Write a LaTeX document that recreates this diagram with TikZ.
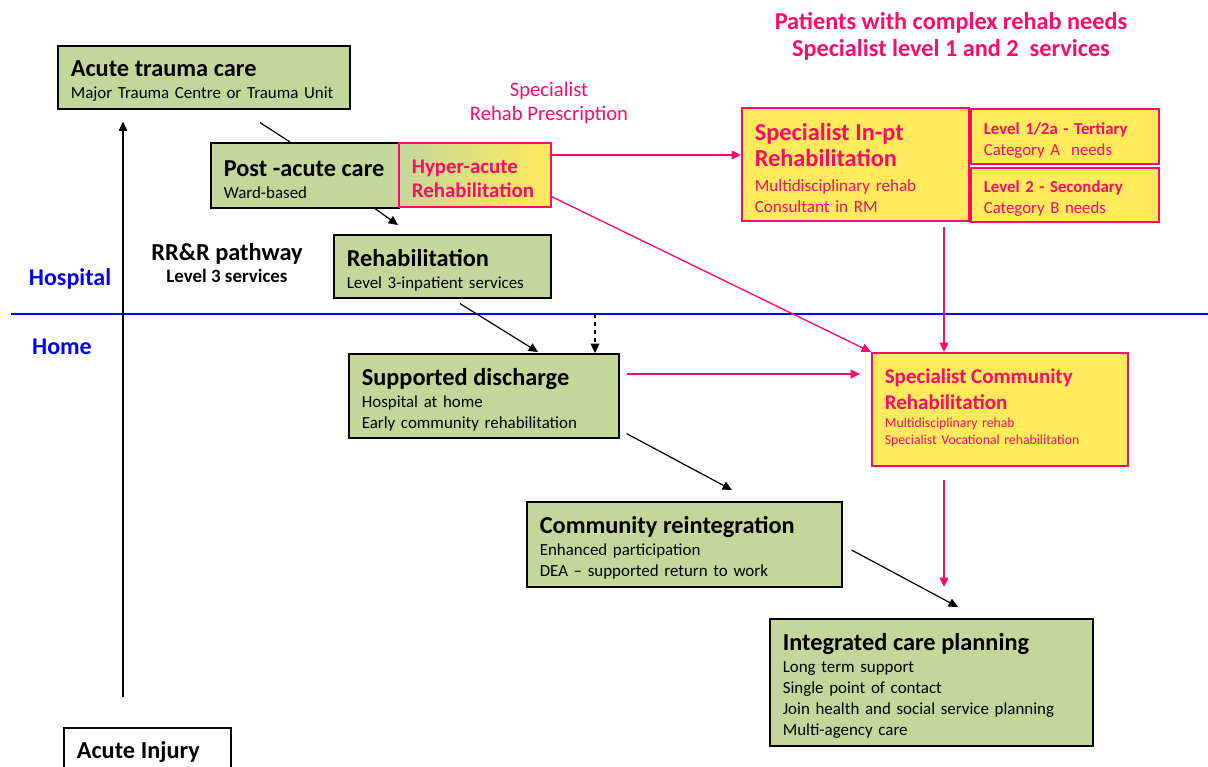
\documentclass[tikz,border=0pt]{standalone}
\usepackage{fontspec}
\setmainfont{Carlito}
\usepackage{tikz}
\usetikzlibrary{arrows.meta,calc,positioning}
\setlength{\parindent}{0pt}
\definecolor{boxgreen}{HTML}{C4D79B}
\definecolor{boxyellow}{HTML}{FFEB5C}
\definecolor{rehabpink}{HTML}{FF0A6A}
\definecolor{homeblue}{HTML}{0000FF}
\newcommand{\boxhead}[2][18.25]{{\fontsize{#1}{19.5}\selectfont\bfseries #2\par}\vspace{0.75pt}}
\tikzset{care box/.style={draw=black, line width=1.2pt, fill=boxgreen, anchor=north west, align=left, inner xsep=9.75pt, inner ysep=2pt, font=\fontsize{12.7}{15.75}\selectfont, execute at end node={\par\vspace{-6pt}}}}
\tikzset{specialist box/.style={care box, draw=rehabpink, fill=boxyellow, text=rehabpink, font=\fontsize{12.8}{15.75}\selectfont}}
\tikzset{place label/.style={text=homeblue, font=\fontsize{18}{20}\selectfont\bfseries}}
\tikzset{care flow/.style={-{Triangle[length=7pt,width=6.5pt]}, line width=0.9pt}}
\tikzset{specialist flow/.style={care flow, draw=rehabpink, line width=1pt}}

\begin{document}
\begin{tikzpicture}[x=0.75pt, y=-0.75pt]
\useasboundingbox (0,0) rectangle (1208,767);

% hospital / home
\coordinate (split west) at (11,314);
\coordinate (split east) at (1208,314);
\draw[homeblue, line width=1pt] (split west) -- (split east);
\node[place label] (hospital) at (70,279) {Hospital};
\node[place label] (home) at (62,347) {Home};

% level 3 pathway
\node[care box, text width=199.5pt, minimum height=47.25pt] (trauma) at (57,45) {\boxhead{Acute trauma care}Major Trauma Centre or Trauma Unit};
\node[care box, text width=121.5pt, minimum height=48.75pt] (postacute) at (210,142) {\boxhead{Post -acute care}Ward-based};
\node[care box, text width=143.25pt, minimum height=47.25pt] (rehab) at (333,234) {\boxhead{Rehabilitation}Level 3-inpatient services};
\node[align=center, font=\fontsize{14.2}{16.5}\selectfont\bfseries] (pathway) at (227,263) {{\fontsize{18.3}{20}\selectfont RR\&R pathway}\\Level 3 services};
\node[care box, text width=183pt, minimum height=63pt] (discharge) at (348,353) {\boxhead{Supported discharge}Hospital at home\\Early community rehabilitation};
\node[care box, text width=216.75pt, minimum height=63.75pt] (reinteg) at (526,501) {\boxhead{Community reintegration}Enhanced participation\\DEA -- supported return to work};
\node[care box, text width=222.75pt, minimum height=95.25pt] (integ) at (769,618) {\boxhead{Integrated care planning}Long term support\\Single point of contact\\Join health and social service planning\\Multi-agency care};
\node[care box, fill=white, text width=105.75pt, minimum height=33pt] (injury) at (63,727) {\boxhead{Acute Injury}};

% specialist level 1 and 2
\node[align=center, text=rehabpink, font=\fontsize{18.2}{20.25}\selectfont\bfseries] (complex) at (951,36) {Patients with complex rehab needs\\Specialist level 1 and 2\ \ services};
\node[align=center, text=rehabpink, font=\fontsize{15.5}{18}\selectfont] (prescription) at (549,103) {Specialist\\Rehab Prescription};
\node[specialist box, left color=boxgreen, right color=boxyellow, text width=94.5pt, minimum height=48pt, font=\fontsize{15.7}{18}\selectfont\bfseries] (hyperacute) at (398,142) {Hyper-acute\\Rehabilitation};
\node[specialist box, text width=150.75pt, minimum height=84.75pt] (inpt) at (741,107) {\boxhead{Specialist In-pt\\Rehabilitation}\vspace{2pt}Multidisciplinary rehab\\Consultant in RM};
\node[specialist box, text width=121.5pt, minimum height=41.25pt, font=\fontsize{12.6}{15.75}\selectfont] (tertiary) at (970,108) {\textbf{Level 1/2a - Tertiary}\\Category A\ \ needs};
\node[specialist box, text width=121.5pt, minimum height=40.5pt, font=\fontsize{12.6}{15.75}\selectfont] (secondary) at (970,167) {\textbf{Level 2 - Secondary}\\Category B needs};
\node[specialist box, text width=172.5pt, minimum height=84.75pt, font=\fontsize{10.3}{12.75}\selectfont] (commrehab) at (871,352) {\boxhead[15.75]{Specialist Community\\Rehabilitation}Multidisciplinary rehab\\Specialist Vocational rehabilitation\par\vspace{8pt}};

% flows
\draw[care flow] ($(injury.north west)+(60,-30)$) -- ($(trauma.south west)+(66,12)$);
\draw[line width=0.9pt] ($(trauma.south west)+(203,13)$) -- ($(postacute.north west)+(80,0)$);
\draw[care flow] ($(postacute.south west)+(165,0)$) -- ($(rehab.north west)+(65,-9)$);
\draw[care flow] ($(rehab.south west)+(127,5)$) -- ($(discharge.north west)+(190,-1)$);
\coordinate (dischargein) at ($(discharge.north west)+(247,0)$);
\draw[care flow, dashed] (dischargein |- split west) -- (dischargein);
\draw[care flow] ($(discharge.south east)+(7,-5)$) -- ($(reinteg.north west)+(206,-11)$);
\draw[care flow] ($(reinteg.north east)+(9,49)$) -- ($(integ.north west)+(189,-11)$);

\draw[specialist flow] ($(hyperacute.north east)+(0,13)$) -- ($(inpt.north west)+(0,48)$);
\draw[specialist flow] ($(hyperacute.south east)+(0,-11)$) -- (commrehab.north west);
\draw[specialist flow] ($(inpt.south west)+(203,5)$) -- ($(commrehab.north west)+(73,0)$);
\draw[specialist flow] ($(discharge.north east)+(7,21)$) -- ($(commrehab.north west)+(-11,22)$);
\draw[specialist flow] ($(commrehab.south west)+(73,13)$) -- ($(integ.north west)+(175,-31)$);
\end{tikzpicture}
\end{document}
